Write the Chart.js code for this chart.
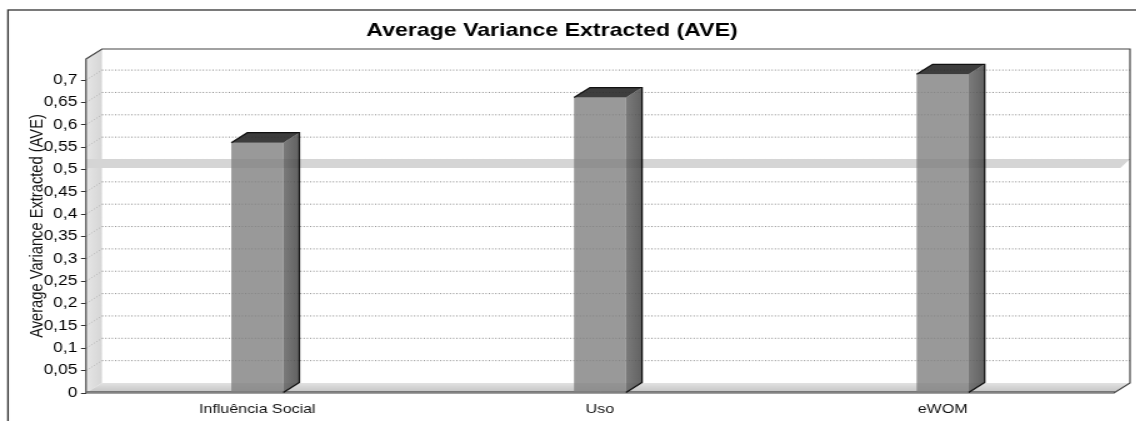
<!DOCTYPE html>
<html>
<head>
<meta charset="utf-8">
<script src="https://cdn.jsdelivr.net/npm/chart.js@4.4.1/dist/chart.umd.min.js"></script>
<style>
  html, body { margin: 0; padding: 0; background: #fff; overflow: hidden; }
  /* the original picture is stretched sideways, so the canvas is too */
  #wrap { width: 909px; height: 421px; transform: scaleX(1.25); transform-origin: 0 0; }
</style>
</head>
<body>
<div id="wrap"><canvas id="aveChart" width="909" height="421"></canvas></div>
<script>
var chartTitle = "Average Variance Extracted (AVE)";
var axisTitle = "Average Variance Extracted (AVE)";
var categories = ["Influência Social", "Uso", "eWOM"];
var aveValues = [0.56, 0.661, 0.713];
var yTicks = [0, 0.05, 0.1, 0.15, 0.2, 0.25, 0.3, 0.35, 0.4, 0.45, 0.5, 0.55, 0.6, 0.65, 0.7];
var threshold = 0.5;

// 3d depth of walls and bars
var DX = 12.8, DY = 10;

function poly(ctx, pts) {
    ctx.beginPath();
    ctx.moveTo(pts[0][0], pts[0][1]);
    for (var i = 1; i < pts.length; i++) ctx.lineTo(pts[i][0], pts[i][1]);
    ctx.closePath();
}

function line(ctx, x1, y1, x2, y2) {
    ctx.beginPath();
    ctx.moveTo(x1, y1);
    ctx.lineTo(x2, y2);
    ctx.stroke();
}

var plot3d = {
    id: 'plot3d',
    afterLayout: function(chart) {
        // title sits a little left of centre in the original
        chart.titleBlock.left -= 8;
        chart.titleBlock.right -= 8;
    },
    beforeDatasetsDraw: function(chart) {
        var ctx = chart.ctx, a = chart.chartArea, ys = chart.scales.y;
        var L = a.left, R = a.right, T = a.top, B = a.bottom;
        ctx.save();

        // outer frame
        ctx.strokeStyle = '#333';
        ctx.lineWidth = 1.3;
        ctx.strokeRect(6.4, 10, chart.width + 10, chart.height + 10);

        // left wall
        var g = ctx.createLinearGradient(L, 0, L + DX, 0);
        g.addColorStop(0, '#e6e6e6');
        g.addColorStop(1, '#d6d6d6');
        ctx.fillStyle = g;
        poly(ctx, [[L, B], [L + DX, B - DY], [L + DX, T - DY], [L, T]]);
        ctx.fill();

        // floor
        g = ctx.createLinearGradient(0, B - DY, 0, B);
        g.addColorStop(0, '#e2e2e2');
        g.addColorStop(1, '#c2c2c2');
        ctx.fillStyle = g;
        poly(ctx, [[L, B], [R, B], [R + DX, B - DY], [L + DX, B - DY]]);
        ctx.fill();

        // dotted grid on back wall and across left wall
        ctx.lineWidth = 1;
        ctx.setLineDash([1, 1.6]);
        yTicks.forEach(function(v) {
            if (v === 0) return;
            var py = ys.getPixelForValue(v);
            ctx.strokeStyle = '#8c8c8c';
            line(ctx, L + DX, py - DY, R + DX, py - DY);
            ctx.strokeStyle = '#b4b4b4';
            line(ctx, L, py, L + DX, py - DY);
        });
        ctx.setLineDash([]);

        // threshold band at 0.5
        var ty = ys.getPixelForValue(threshold);
        ctx.fillStyle = '#d5d5d5';
        poly(ctx, [[L, ty - DY - 0.5], [R + DX, ty - DY - 0.5], [R + DX * 0.4, ty - 1.5], [L, ty - 1.5]]);
        ctx.fill();

        // edges
        ctx.strokeStyle = '#444';
        ctx.lineWidth = 1.2;
        ctx.beginPath();
        ctx.moveTo(L, T);
        ctx.lineTo(L + DX, T - DY);
        ctx.lineTo(R + DX, T - DY);
        ctx.lineTo(R + DX, B - DY);
        ctx.lineTo(R, B);
        ctx.lineTo(L, B);
        ctx.closePath();
        ctx.stroke();
        ctx.strokeStyle = '#777';
        ctx.lineWidth = 1;
        line(ctx, L, B - 1.5, R + 1, B - 1.5);
        ctx.restore();
    },
    afterDatasetsDraw: function(chart) {
        var ctx = chart.ctx;
        ctx.save();
        chart.getDatasetMeta(0).data.forEach(function(bar) {
            var l = bar.x - bar.width / 2, r = bar.x + bar.width / 2;
            var t = bar.y, b = bar.base;
            // side face
            var g = ctx.createLinearGradient(r, 0, r + DX, 0);
            g.addColorStop(0, 'rgba(100,100,100,0.85)');
            g.addColorStop(1, 'rgba(70,70,70,0.85)');
            ctx.fillStyle = g;
            poly(ctx, [[r, t], [r + DX, t - DY], [r + DX, b - DY], [r, b]]);
            ctx.fill();
            // top face
            ctx.fillStyle = 'rgba(45,45,45,0.92)';
            poly(ctx, [[l, t], [l + DX, t - DY], [r + DX, t - DY], [r, t]]);
            ctx.fill();
            ctx.strokeStyle = '#111';
            ctx.lineWidth = 1.3;
            ctx.beginPath();
            ctx.moveTo(l, t);
            ctx.lineTo(l + DX, t - DY);
            ctx.lineTo(r + DX, t - DY);
            ctx.lineTo(r + DX, b - DY);
            ctx.lineTo(r, b);
            ctx.stroke();
        });
        ctx.restore();
    }
};

function fmt(v) {
    return String(+v.toFixed(2)).replace('.', ',');
}

var ctx = document.getElementById('aveChart');

var aveChart = new Chart(ctx, {
    type: 'bar',
    data: {
        labels: categories,
        datasets: [{
            data: aveValues,
            backgroundColor: 'rgba(128,128,128,0.8)',
            borderWidth: 0,
            barPercentage: 0.1518,
            categoryPercentage: 1
        }]
    },
    options: {
        responsive: false,
        animation: false,
        devicePixelRatio: 1,
        layout: {
            padding: { left: 8, right: 17.8, top: 0, bottom: 0 }
        },
        plugins: {
            legend: { display: false },
            tooltip: { enabled: false },
            title: {
                display: true,
                text: chartTitle,
                color: '#000',
                font: { family: 'Liberation Sans', size: 18.5, weight: 'bold' },
                padding: { top: 20, bottom: 16.8 }
            }
        },
        scales: {
            x: {
                grid: { display: false, drawTicks: false },
                border: { display: false },
                ticks: {
                    color: '#111',
                    padding: 8.5,
                    font: { family: 'Liberation Sans', size: 12.8 }
                },
                afterFit: function(scale) { scale.height = 28; }
            },
            y: {
                min: 0,
                max: 0.7472,
                afterBuildTicks: function(scale) {
                    scale.ticks = yTicks.map(function(v) { return { value: v }; });
                },
                grid: { drawOnChartArea: false, drawTicks: true, tickLength: 4, color: '#333' },
                border: { display: false },
                ticks: {
                    color: '#000',
                    padding: 3,
                    font: { family: 'Liberation Sans', size: 13.8 },
                    callback: function(v) { return fmt(v); }
                },
                title: {
                    display: true,
                    text: axisTitle,
                    color: '#111',
                    font: { family: 'Liberation Sans', size: 14.7 },
                    padding: { top: 13, bottom: 0 }
                },
                afterFit: function(scale) { scale.width = 60.8; }
            }
        }
    },
    plugins: [plot3d]
});
</script>
</body>
</html>
